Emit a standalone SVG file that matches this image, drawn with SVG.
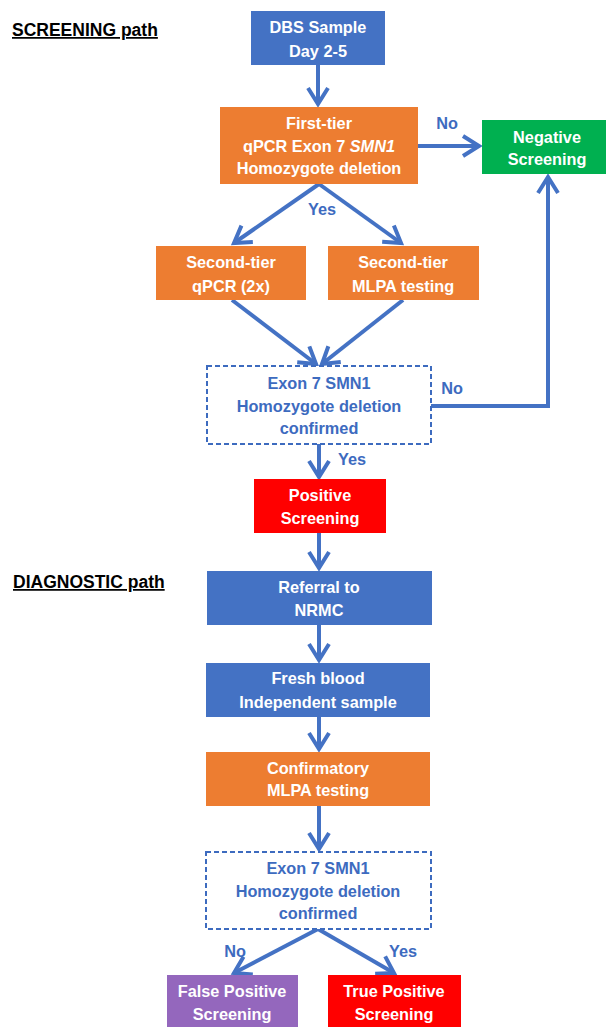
<svg xmlns="http://www.w3.org/2000/svg" width="606" height="1027" viewBox="0 0 606 1027">
<style>
.t{font-family:"Liberation Sans",Arial,sans-serif;font-weight:bold;font-size:16.3px;text-anchor:middle;dominant-baseline:central;fill:#fff}
.lbl{font-family:"Liberation Sans",Arial,sans-serif;font-weight:bold;font-size:16.3px;text-anchor:middle;dominant-baseline:central;fill:#3D6BBF}
.hd{font-family:"Liberation Sans",Arial,sans-serif;font-weight:bold;font-size:17.5px;fill:#000;text-decoration:underline}
.con{fill:none;stroke:#4472C4;stroke-width:4;marker-end:url(#ah)}
.dash{fill:#fff;stroke:#3D6BBF;stroke-width:2;stroke-dasharray:5 3}
</style>
<defs>
<marker id="ah" markerUnits="userSpaceOnUse" viewBox="-20 -14 24 28" refX="0" refY="0" markerWidth="24" markerHeight="28" orient="auto">
<path d="M-16,-10 L0,0 L-16,10" fill="none" stroke="#4472C4" stroke-width="4"/>
</marker>
</defs>
<rect width="606" height="1027" fill="#fff"/>
<text class="hd" x="12" y="36">SCREENING path</text>
<text class="hd" x="13" y="588">DIAGNOSTIC path</text>
<g id="connectors">
<path class="con" d="M318,65 L318,104"/>
<path class="con" d="M418,146 L479,146"/>
<path class="con" d="M319,184 L234,243"/>
<path class="con" d="M319,184 L401,243"/>
<path class="con" d="M232,300 L316,364"/>
<path class="con" d="M403,300 L322,364"/>
<path class="con" d="M431,406 L548,406 L548,177"/>
<path class="con" d="M319,444 L319,477"/>
<path class="con" d="M319,533 L319,568"/>
<path class="con" d="M319,625 L319,660"/>
<path class="con" d="M319,717 L319,749"/>
<path class="con" d="M319,806 L319,849"/>
<path class="con" d="M318,929 L234,973"/>
<path class="con" d="M318,929 L394,973"/>
<text class="lbl" x="447" y="123">No</text>
<text class="lbl" x="322" y="209">Yes</text>
<text class="lbl" x="452" y="388">No</text>
<text class="lbl" x="352" y="459">Yes</text>
<text class="lbl" x="235" y="951">No</text>
<text class="lbl" x="403" y="951">Yes</text>
</g>
<g id="dbs">
<rect x="251" y="11" width="134" height="54" fill="#4472C4"/>
<text class="t" x="318" y="27">DBS Sample</text>
<text class="t" x="318" y="51">Day 2-5</text>
</g>
<g id="first-tier">
<rect x="220" y="107" width="198" height="77" fill="#ED7D31"/>
<text class="t" x="319" y="123">First-tier</text>
<text class="t" x="319" y="146">qPCR Exon 7 <tspan font-style="italic">SMN1</tspan></text>
<text class="t" x="319" y="168">Homozygote deletion</text>
</g>
<g id="negative">
<rect x="482" y="120" width="124" height="54" fill="#00B050"/>
<text class="t" x="547" y="137">Negative</text>
<text class="t" x="547" y="159">Screening</text>
</g>
<g id="second-qpcr">
<rect x="156" y="246" width="150" height="54" fill="#ED7D31"/>
<text class="t" x="231" y="262">Second-tier</text>
<text class="t" x="231" y="286">qPCR (2x)</text>
</g>
<g id="second-mlpa">
<rect x="328" y="246" width="151" height="54" fill="#ED7D31"/>
<text class="t" x="403" y="262">Second-tier</text>
<text class="t" x="403" y="286">MLPA testing</text>
</g>
<g id="confirm1">
<rect class="dash" x="207" y="366" width="224" height="78"/>
<text class="lbl" x="319" y="383">Exon 7 SMN1</text>
<text class="lbl" x="319" y="406">Homozygote deletion</text>
<text class="lbl" x="319" y="428">confirmed</text>
</g>
<g id="positive">
<rect x="254" y="479" width="132" height="54" fill="#FF0000"/>
<text class="t" x="320" y="495">Positive</text>
<text class="t" x="320" y="518">Screening</text>
</g>
<g id="referral">
<rect x="207" y="571" width="225" height="54" fill="#4472C4"/>
<text class="t" x="319" y="587">Referral to</text>
<text class="t" x="319" y="610">NRMC</text>
</g>
<g id="fresh">
<rect x="206" y="663" width="224" height="54" fill="#4472C4"/>
<text class="t" x="318" y="678">Fresh blood</text>
<text class="t" x="318" y="702">Independent sample</text>
</g>
<g id="confirmatory">
<rect x="206" y="752" width="224" height="54" fill="#ED7D31"/>
<text class="t" x="318" y="768">Confirmatory</text>
<text class="t" x="318" y="790">MLPA testing</text>
</g>
<g id="confirm2">
<rect class="dash" x="206" y="852" width="225" height="77"/>
<text class="lbl" x="318" y="868">Exon 7 SMN1</text>
<text class="lbl" x="318" y="891">Homozygote deletion</text>
<text class="lbl" x="318" y="913">confirmed</text>
</g>
<g id="false-positive">
<rect x="167" y="975" width="131" height="52" fill="#9467BD"/>
<text class="t" x="232" y="991">False Positive</text>
<text class="t" x="232" y="1014">Screening</text>
</g>
<g id="true-positive">
<rect x="328" y="975" width="133" height="52" fill="#FF0000"/>
<text class="t" x="394" y="991">True Positive</text>
<text class="t" x="394" y="1014">Screening</text>
</g>
</svg>
